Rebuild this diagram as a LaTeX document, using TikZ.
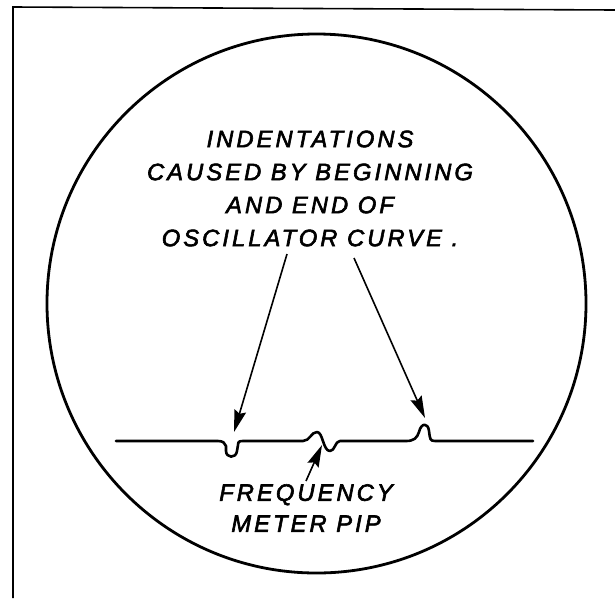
\documentclass[tikz,border=0pt]{standalone}
\usepackage{fontspec}
\setmainfont{Liberation Sans}
\newfontfamily\letterfont[LetterSpace=13,FakeBold=2.5]{Liberation Sans Italic}
\usetikzlibrary{arrows.meta}
\begin{document}
\begin{tikzpicture}[x=1pt,y=-1pt,
  frameline/.style={line width=1.6pt},
  scopeline/.style={line width=2.8pt},
  traceline/.style={line width=2.6pt,line join=round,line cap=round},
  pointer/.style={line width=1.6pt,-{Stealth[length=22pt,width=12pt,inset=3pt]}},
  lettering/.style={align=center,inner sep=0pt,font=\letterfont\fontsize{23.7}{33}\selectfont}]
\useasboundingbox (0,0) rectangle (615,598);
\fill[white] (0,0) rectangle (615,598);
% frame
\coordinate (fbl) at (13,598);
\coordinate (ftl) at (13,7);
\coordinate (ftr) at (615,10);
\draw[frameline] (fbl) -- (ftl) -- (ftr);
% scope face
\node[circle,draw,scopeline,minimum size=539pt,inner sep=0pt] (face) at (316.5,303.5) {};
% trace
\draw[traceline] (116,441) -- (218,441)
  .. controls (223,441) and (225,443) .. (226,446) -- (226,451)
  .. controls (226,458) and (236,459) .. (237,451) -- (238,445)
  .. controls (238,441) and (240,441) .. (244,441) -- (303,441)
  .. controls (310,441) and (311,432) .. (317,432)
  .. controls (323,432) and (323,451) .. (330,451)
  .. controls (335,451) and (335,441) .. (340,441) -- (406,441)
  .. controls (414,441) and (417,438) .. (419,432)
  .. controls (421,423) and (428,422) .. (429,431)
  .. controls (430,439) and (430,441) .. (435,441) -- (533,441);
% labels
\node[lettering] (top) at (310,188.5) {INDENTATIONS\\CAUSED BY BEGINNING\\AND END OF\\OSCILLATOR CURVE .};
\node[lettering,font=\letterfont\fontsize{23.7}{31}\selectfont] (bottom) at (306,508) {FREQUENCY\\METER PIP};
% arrows
\coordinate (t1) at (287,254);
\coordinate (h1) at (234,432);
\coordinate (t2) at (354,258);
\coordinate (h2) at (425,418);
\coordinate (t3) at (306,481);
\coordinate (h3) at (322,445);
\draw[pointer] (t1) -- (h1);
\draw[pointer] (t2) -- (h2);
\draw[pointer] (t3) -- (h3);
\end{tikzpicture}
\end{document}
